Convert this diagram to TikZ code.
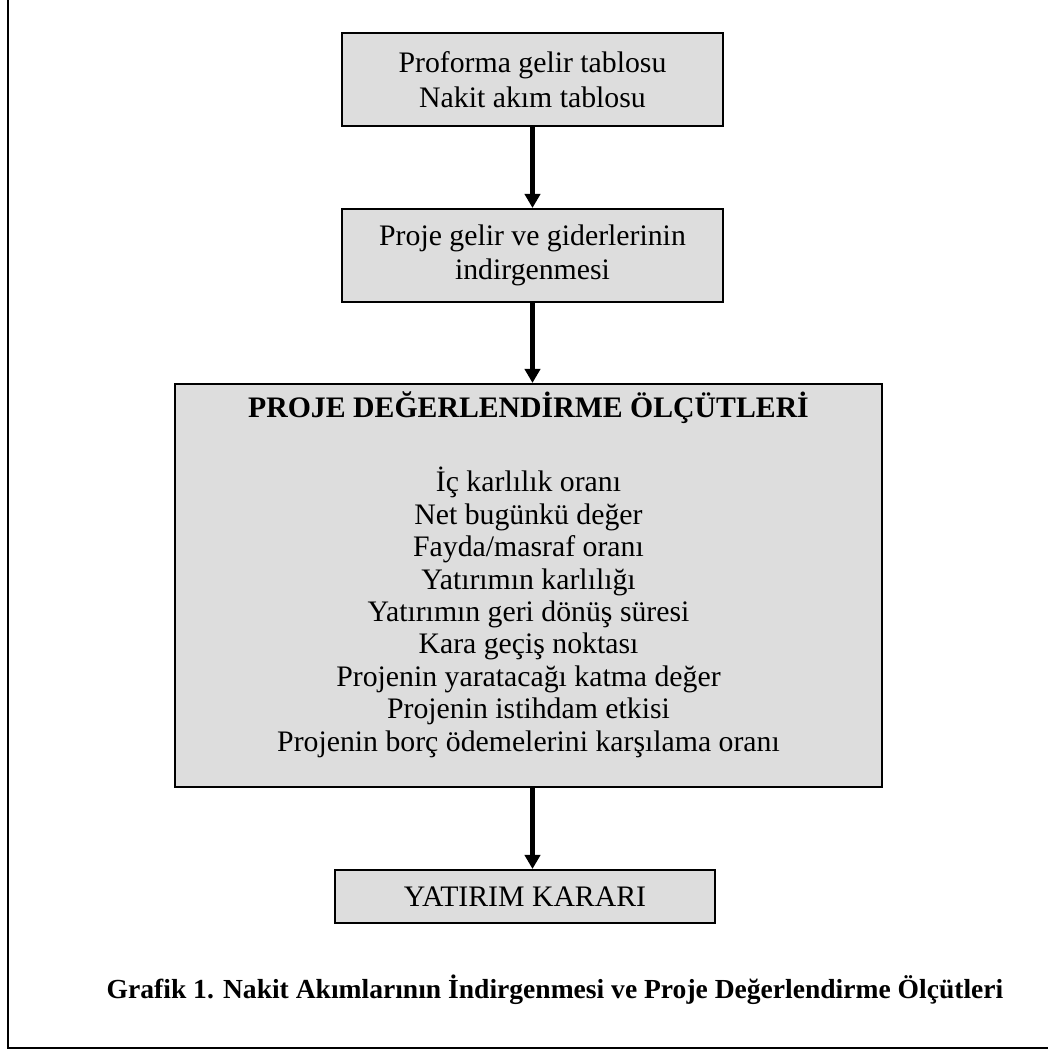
\documentclass[tikz,border=0pt]{standalone}
\usepackage{fontspec}
\setmainfont{Liberation Serif}
\usepackage{xcolor}
\usetikzlibrary{arrows.meta,positioning}
\definecolor{boxgray}{RGB}{221,221,221}

\begin{document}
\begin{tikzpicture}[x=0.43pt, y=-0.43pt,
    box/.style={draw, line width=0.9pt, fill=boxgray, inner sep=0pt, align=center, font=\fontsize{12.8}{14.8}\selectfont},
    flow/.style={line width=2pt, -{Triangle[length=6pt, width=6.5pt]}}]
                        \useasboundingbox (0, 0) rectangle (1048, 1050);
                        \draw[line width=0.9pt] (8, -20) rectangle (1070, 1048);

                        \node[box, minimum width=163.8pt, minimum height=40pt] (tables) at (532.5, 79.5) {Proforma gelir tablosu\\Nakit akım tablosu};
                        \node[box, minimum width=163.8pt, minimum height=40pt] (discount) at (532.5, 255.5) {Proje gelir ve giderlerinin\\indirgenmesi};
                        \node[box, minimum width=304pt, minimum height=173.3pt] (criteria) at (528.5, 585.5) {};
                        \node[inner sep=0pt, align=center, anchor=base, font=\fontsize{12.8}{13.93}\selectfont] (criterialist) at (528.5, 751) {\textbf{PROJE DEĞERLENDİRME ÖLÇÜTLERİ}\\[17.9pt]
                            İç karlılık oranı\\
                            Net bugünkü değer\\
                            Fayda/masraf oranı\\
                            Yatırımın karlılığı\\
                            Yatırımın geri dönüş süresi\\
                            Kara geçiş noktası\\
                            Projenin yaratacağı katma değer\\
                            Projenin istihdam etkisi\\
                            Projenin borç ödemelerini karşılama oranı};
                        \node[box, minimum width=163.4pt, minimum height=22.8pt] (decision) at (525, 896.5) {YATIRIM KARARI};
                        \node[font=\fontsize{11.85}{14}\selectfont\bfseries] (caption) at (555, 990) {Grafik 1. Nakit Akımlarının İndirgenmesi ve Proje Değerlendirme Ölçütleri};

                        \draw[flow] (tables) -- (discount);
                        \draw[flow] (discount) -- (discount |- criteria.north);
                        \draw[flow] (criteria.south -| tables) -- (decision.north -| tables);
                    \end{tikzpicture}
\end{document}
